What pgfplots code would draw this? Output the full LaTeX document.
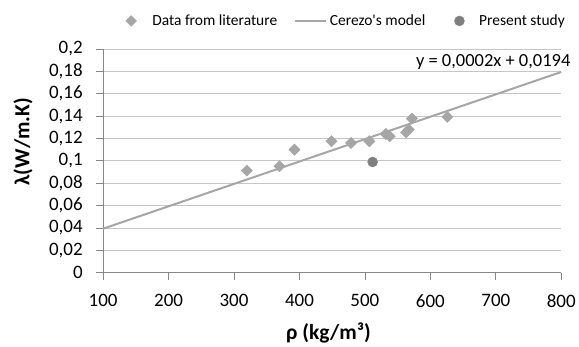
\documentclass[border=0pt]{standalone}
\usepackage{fontspec}
\setmainfont{Carlito}[Ligatures=TeXOff]
\usepackage{pgfplots}
\pgfplotsset{compat=1.18}
\definecolor{ptgray}{HTML}{A6A6A6}
\definecolor{dgray}{HTML}{7F7F7F}
\definecolor{axgray}{HTML}{868686}
\definecolor{gridgray}{HTML}{C6C6C6}
\begin{document}
\begin{tikzpicture}
\begin{axis}[
  scale only axis,
  width=459pt, height=224.3pt,
  xmin=100, xmax=800, ymin=0, ymax=0.2,
  xtick={100,200,300,400,500,600,700,800},
  ytick={0,0.02,0.04,0.06,0.08,0.1,0.12,0.14,0.16,0.18,0.2},
  scaled y ticks=false,
  axis lines=left,
  axis line style={-, axgray, line width=0.8pt},
  tick align=outside,
  major tick length=7pt,
  tick style={axgray, line width=0.8pt},
  ymajorgrids=true,
  grid style={gridgray, line width=0.8pt},
  clip=false,
  /pgf/number format/assume math mode=true,
  /pgf/number format/use comma,
  yticklabel style={/pgf/number format/fixed, /pgf/number format/precision=2},
  xticklabel style={/pgf/number format/set thousands separator={}},
  tick label style={font=\fontsize{19}{22}\selectfont},
  xticklabel shift=11pt,
  yticklabel shift=10pt,
  xlabel={\bfseries ρ (kg/m³)},
  ylabel={\bfseries λ(W/m.K)},
  label style={font=\fontsize{21.5}{25}\selectfont},
  xlabel style={at={(axis description cs:0.492,-0.271)}, anchor=center},
  ylabel style={at={(axis description cs:-0.175,0.585)}, anchor=center},
  legend style={draw=none, fill=none, at={(axis description cs:0.0486,1.125)}, anchor=west,
    font=\fontsize{15.5}{18}\selectfont, inner sep=0pt,
    /tikz/every odd column/.append style={column sep=0pt},
    /tikz/every even column/.append style={column sep=0pt}},
  legend columns=3,
]
\addplot[only marks, mark=square*, mark size=4pt, mark options={rotate=45, fill=ptgray, draw=ptgray},
  legend image code/.code={\fill[ptgray] (6pt,5.4pt) -- (11.4pt,0pt) -- (6pt,-5.4pt) -- (0.6pt,0pt) -- cycle; \path (0.6pt,0pt) (25pt,0pt);}]
  coordinates {
  (319.6,0.0913) (369.5,0.0952) (392.4,0.110) (449,0.1175) (478.8,0.116)
  (506.8,0.1175) (532,0.124) (538,0.122) (563,0.1255) (567,0.128)
  (571.8,0.1378) (626,0.1393)
  };
\addlegendentry{Data from literature}
\addplot[ptgray, line width=2pt, legend image code/.code={\draw[ptgray, line width=2pt] (0pt,0pt) -- (31pt,0pt); \path (-14.7pt,0pt) (32pt,0pt);}]
  coordinates {(100,0.0394) (800,0.1794)};
\addlegendentry{Cerezo's model}
\addplot[only marks, mark=*, mark size=5pt, mark options={fill=dgray, draw=dgray},
  legend image code/.code={\fill[dgray] (6pt,0pt) circle (5pt); \path (-26pt,0pt) (23.5pt,0pt);}]
  coordinates {(511.8,0.0990)};
\addlegendentry{Present study}
\node[anchor=base, font=\fontsize{18.5}{21}\selectfont, inner sep=0pt] at (axis cs:696,0.1842) {y = 0,0002x + 0,0194};
\end{axis}
\path[use as bounding box] (-103.3pt,-70.7pt) rectangle (475.7pt,273.3pt);
\end{tikzpicture}
\end{document}
